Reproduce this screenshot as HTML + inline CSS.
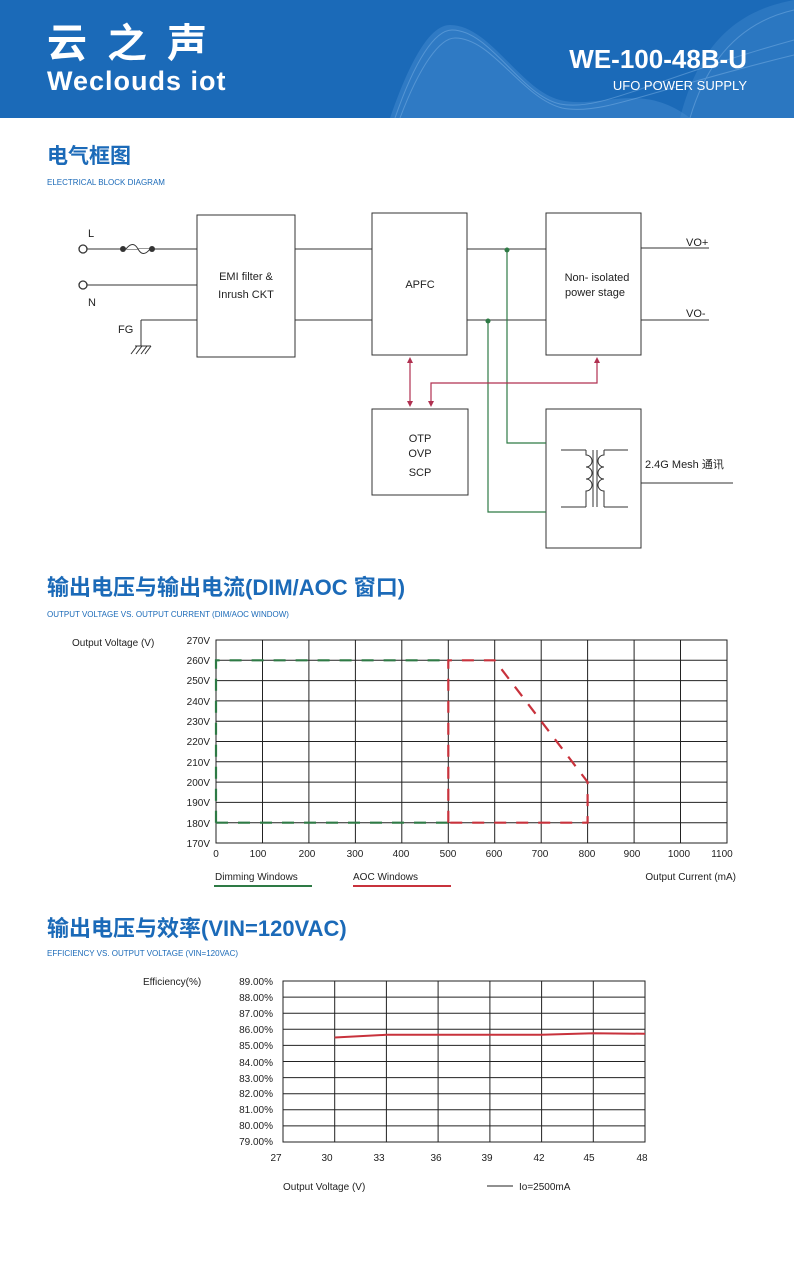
<!DOCTYPE html>
<html><head><meta charset="utf-8"><style>
body{margin:0;width:794px;height:1275px;background:#fff;overflow:hidden;font-family:"Liberation Sans","Noto Sans CJK SC",sans-serif}
</style></head><body>
<svg width="794" height="1275" viewBox="0 0 794 1275" xmlns="http://www.w3.org/2000/svg" font-family="Liberation Sans, Noto Sans CJK SC, sans-serif">
<rect x="0" y="0" width="794" height="118" fill="#1b6ab8"/>
<path d="M390 118 C410 60 430 25 450 25 C490 25 520 90 560 100 C600 110 640 80 690 118 Z" fill="#4a8fd2" opacity="0.45"/>
<path d="M680 118 C700 40 740 10 794 0 V118 Z" fill="#4a8fd2" opacity="0.35"/>
<g fill="none" stroke="#7ab0e4" stroke-width="1" opacity="0.5">
<path d="M395 118 C415 60 435 30 452 30 C490 30 520 95 560 104 C600 112 650 80 794 40"/>
<path d="M400 118 C420 65 440 38 455 38 C492 38 522 98 562 108 C602 116 650 90 794 55"/>
<path d="M690 118 C710 50 750 20 794 10"/>
</g>
<text x="47" y="57" font-size="40" font-weight="bold" fill="#fff" letter-spacing="20">云之声</text>
<text x="47" y="90" font-size="27" font-weight="bold" fill="#fff" letter-spacing="1">Weclouds iot</text>
<text x="747" y="68" font-size="26" font-weight="bold" fill="#fff" text-anchor="end">WE-100-48B-U</text>
<text x="747" y="90" font-size="13" fill="#fff" text-anchor="end">UFO POWER SUPPLY</text>

<text x="47" y="163" font-size="21" font-weight="bold" fill="#1b6ab8">电气框图</text>
<text x="47" y="185" font-size="8" fill="#1b6ab8">ELECTRICAL BLOCK DIAGRAM</text>

<g fill="none" stroke="#333" stroke-width="1">
<rect x="197" y="215" width="98" height="142"/>
<rect x="372" y="213" width="95" height="142"/>
<rect x="546" y="213" width="95" height="142"/>
<rect x="372" y="409" width="96" height="86"/>
<rect x="546" y="409" width="95" height="139"/>
<line x1="87" y1="249" x2="197" y2="249"/>
<line x1="87" y1="285" x2="197" y2="285"/>
<line x1="141" y1="320" x2="197" y2="320"/>
<line x1="141" y1="320" x2="141" y2="346"/>
<line x1="135" y1="346" x2="151" y2="346"/>
<line x1="137" y1="346" x2="131" y2="354"/><line x1="142" y1="346" x2="136" y2="354"/><line x1="147" y1="346" x2="141" y2="354"/><line x1="151" y1="346" x2="145" y2="354"/>
<line x1="295" y1="249" x2="372" y2="249"/>
<line x1="295" y1="320" x2="372" y2="320"/>
<line x1="467" y1="249" x2="546" y2="249"/>
<line x1="467" y1="320" x2="546" y2="320"/>
<line x1="641" y1="248" x2="709" y2="248"/>
<line x1="641" y1="320" x2="709" y2="320"/>
<line x1="641" y1="483" x2="733" y2="483"/>
<path d="M126 249 Q133 240 138 249 Q143 258 150 249" fill="#fff"/>
<line x1="561" y1="450" x2="586" y2="450"/><line x1="561" y1="507" x2="586" y2="507"/>
<line x1="604" y1="450" x2="628" y2="450"/><line x1="604" y1="507" x2="628" y2="507"/>
<line x1="593" y1="450" x2="593" y2="507"/><line x1="597" y1="450" x2="597" y2="507"/>
<path d="M586 450 v5 a6 6 0 0 1 0 12 a6 6 0 0 1 0 12 a6 6 0 0 1 0 12 v16"/>
<path d="M604 450 v5 a6 6 0 0 0 0 12 a6 6 0 0 0 0 12 a6 6 0 0 0 0 12 v16"/>
</g>
<circle cx="83" cy="249" r="4" fill="#fff" stroke="#333" stroke-width="1.3"/>
<circle cx="83" cy="285" r="4" fill="#fff" stroke="#333" stroke-width="1.3"/>
<circle cx="123" cy="249" r="3" fill="#333"/><circle cx="152" cy="249" r="3" fill="#333"/>
<g fill="none" stroke="#2e7a45" stroke-width="1.2">
<path d="M507 250 V443 H546"/><path d="M488 321 V512 H546"/>
</g>
<circle cx="507" cy="250" r="2.5" fill="#2e7a45"/><circle cx="488" cy="321" r="2.5" fill="#2e7a45"/>
<g fill="none" stroke="#b03050" stroke-width="1.2">
<line x1="410" y1="360" x2="410" y2="404"/>
<path d="M597 360 V383 H431 V404"/>
</g>
<g fill="#b03050">
<path d="M410 357 l-3 6 h6z"/><path d="M410 407 l-3 -6 h6z"/>
<path d="M597 357 l-3 6 h6z"/><path d="M431 407 l-3 -6 h6z"/>
</g>
<g font-size="11" fill="#222">
<text x="88" y="237">L</text><text x="88" y="306">N</text><text x="118" y="333">FG</text>
<text x="246" y="280" text-anchor="middle">EMI filter &amp;</text>
<text x="246" y="298" text-anchor="middle">Inrush CKT</text>
<text x="420" y="288" text-anchor="middle">APFC</text>
<text x="597" y="281" text-anchor="middle">Non- isolated</text>
<text x="595" y="296" text-anchor="middle">power stage</text>
<text x="420" y="442" text-anchor="middle">OTP</text>
<text x="420" y="457" text-anchor="middle">OVP</text>
<text x="420" y="476" text-anchor="middle">SCP</text>
<text x="686" y="246">VO+</text><text x="686" y="317">VO-</text>
<text x="645" y="468">2.4G Mesh 通讯</text>
</g>

<text x="47" y="595" font-size="22" font-weight="bold" fill="#1b6ab8">输出电压与输出电流(DIM/AOC 窗口)</text>
<text x="47" y="617" font-size="8" fill="#1b6ab8">OUTPUT VOLTAGE VS. OUTPUT CURRENT (DIM/AOC WINDOW)</text>

<g stroke="#222" stroke-width="1">
<rect x="216" y="640" width="511" height="203" fill="none"/>
<line x1="216" y1="660.3" x2="727" y2="660.3"/><line x1="216" y1="680.6" x2="727" y2="680.6"/><line x1="216" y1="700.9" x2="727" y2="700.9"/><line x1="216" y1="721.2" x2="727" y2="721.2"/><line x1="216" y1="741.5" x2="727" y2="741.5"/><line x1="216" y1="761.8" x2="727" y2="761.8"/><line x1="216" y1="782.1" x2="727" y2="782.1"/><line x1="216" y1="802.4" x2="727" y2="802.4"/><line x1="216" y1="822.7" x2="727" y2="822.7"/>
<line x1="262.5" y1="640" x2="262.5" y2="843"/><line x1="308.9" y1="640" x2="308.9" y2="843"/><line x1="355.4" y1="640" x2="355.4" y2="843"/><line x1="401.8" y1="640" x2="401.8" y2="843"/><line x1="448.3" y1="640" x2="448.3" y2="843"/><line x1="494.7" y1="640" x2="494.7" y2="843"/><line x1="541.2" y1="640" x2="541.2" y2="843"/><line x1="587.6" y1="640" x2="587.6" y2="843"/><line x1="634.1" y1="640" x2="634.1" y2="843"/><line x1="680.5" y1="640" x2="680.5" y2="843"/>
</g>
<g fill="none" stroke-width="2.2" stroke-dasharray="12,10">
<path d="M216 822.7 V660.3 H448.3" stroke="#2e7a45"/>
<path d="M216 822.7 H448.3" stroke="#2e7a45"/>
<path d="M448.3 822.7 V660.3 H494.7 L587.6 782 V822.7 H448.3" stroke="#c8323c"/>
</g>
<g font-size="10" fill="#222">
<text x="72" y="646">Output Voltage (V)</text>
<g text-anchor="end"><text x="210" y="644">270V</text><text x="210" y="664">260V</text><text x="210" y="684">250V</text><text x="210" y="705">240V</text><text x="210" y="725">230V</text><text x="210" y="745">220V</text><text x="210" y="766">210V</text><text x="210" y="786">200V</text><text x="210" y="806">190V</text><text x="210" y="827">180V</text><text x="210" y="847">170V</text></g>
<g text-anchor="middle"><text x="216" y="857">0</text><text x="258" y="857">100</text><text x="307" y="857">200</text><text x="355" y="857">300</text><text x="401" y="857">400</text><text x="448" y="857">500</text><text x="494" y="857">600</text><text x="540" y="857">700</text><text x="587" y="857">800</text><text x="632" y="857">900</text><text x="679" y="857">1000</text><text x="722" y="857">1100</text></g>
<text x="215" y="880">Dimming Windows</text><text x="353" y="880">AOC Windows</text>
<text x="736" y="880" text-anchor="end">Output Current (mA)</text>
</g>
<line x1="214" y1="886" x2="312" y2="886" stroke="#2e7a45" stroke-width="2"/>
<line x1="353" y1="886" x2="451" y2="886" stroke="#c8323c" stroke-width="2"/>

<text x="47" y="936" font-size="22" font-weight="bold" fill="#1b6ab8">输出电压与效率(VIN=120VAC)</text>
<text x="47" y="956" font-size="8" fill="#1b6ab8">EFFICIENCY VS. OUTPUT VOLTAGE (VIN=120VAC)</text>

<g stroke="#222" stroke-width="1" fill="none">
<rect x="283" y="981" width="362" height="161"/>
<line x1="283" y1="997.1" x2="645" y2="997.1"/><line x1="283" y1="1013.2" x2="645" y2="1013.2"/><line x1="283" y1="1029.3" x2="645" y2="1029.3"/><line x1="283" y1="1045.4" x2="645" y2="1045.4"/><line x1="283" y1="1061.5" x2="645" y2="1061.5"/><line x1="283" y1="1077.6" x2="645" y2="1077.6"/><line x1="283" y1="1093.7" x2="645" y2="1093.7"/><line x1="283" y1="1109.8" x2="645" y2="1109.8"/><line x1="283" y1="1125.9" x2="645" y2="1125.9"/>
<line x1="334.7" y1="981" x2="334.7" y2="1142"/><line x1="386.4" y1="981" x2="386.4" y2="1142"/><line x1="438.1" y1="981" x2="438.1" y2="1142"/><line x1="489.9" y1="981" x2="489.9" y2="1142"/><line x1="541.6" y1="981" x2="541.6" y2="1142"/><line x1="593.3" y1="981" x2="593.3" y2="1142"/>
</g>
<path d="M334.7 1037.5 L386.4 1034.8 L541.6 1034.8 L593.3 1033.2 L645 1033.8" fill="none" stroke="#c8323c" stroke-width="2"/>
<g font-size="10" fill="#222">
<text x="143" y="985">Efficiency(%)</text>
<g text-anchor="end"><text x="273" y="985">89.00%</text><text x="273" y="1001">88.00%</text><text x="273" y="1017">87.00%</text><text x="273" y="1033">86.00%</text><text x="273" y="1049">85.00%</text><text x="273" y="1066">84.00%</text><text x="273" y="1082">83.00%</text><text x="273" y="1097">82.00%</text><text x="273" y="1113">81.00%</text><text x="273" y="1129">80.00%</text><text x="273" y="1145">79.00%</text></g>
<g text-anchor="middle"><text x="276" y="1161">27</text><text x="327" y="1161">30</text><text x="379" y="1161">33</text><text x="436" y="1161">36</text><text x="487" y="1161">39</text><text x="539" y="1161">42</text><text x="589" y="1161">45</text><text x="642" y="1161">48</text></g>
<text x="283" y="1190">Output Voltage (V)</text>
<text x="519" y="1190">Io=2500mA</text>
</g>
<line x1="487" y1="1186" x2="513" y2="1186" stroke="#222" stroke-width="1"/>
</svg>
</body></html>
